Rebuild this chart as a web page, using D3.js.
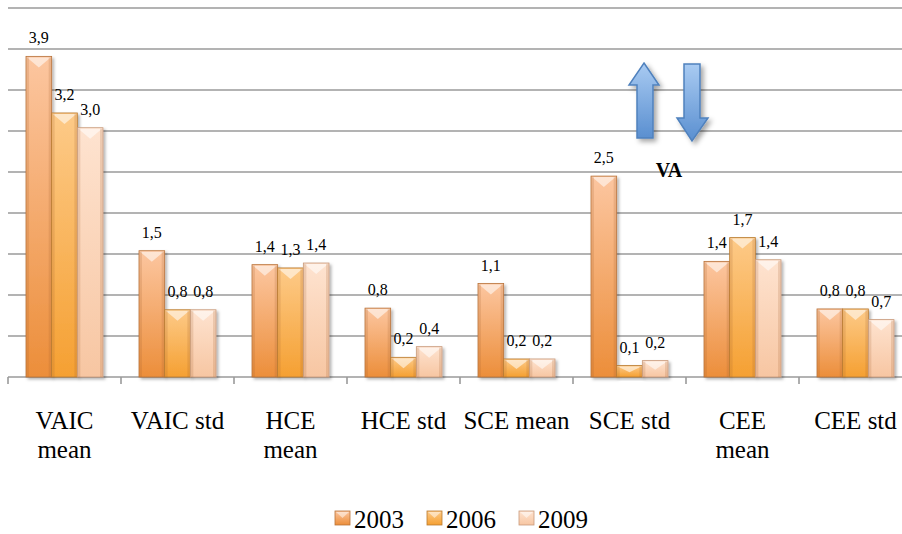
<!DOCTYPE html>
<html>
<head>
<meta charset="utf-8">
<script src="https://cdn.jsdelivr.net/npm/d3@7"></script>
<style>
  html, body { margin: 0; padding: 0; background: #ffffff; }
  svg { display: block; }
  svg text { font-family: "Liberation Serif", "DejaVu Serif", "Times New Roman", serif; }
</style>
</head>
<body>
<svg id="chart" width="902" height="534"></svg>
<script>
// ---- data ----
const categories = ["VAIC\nmean", "VAIC std", "HCE\nmean", "HCE std", "SCE mean", "SCE std", "CEE\nmean", "CEE std"];
const seriesNames = ["2003", "2006", "2009"];
const values2003 = [3.91, 1.54, 1.37, 0.84, 1.14, 2.45, 1.41, 0.83];
const values2006 = [3.22, 0.82, 1.33, 0.24, 0.22, 0.14, 1.70, 0.83];
const values2009 = [3.04, 0.82, 1.39, 0.37, 0.22, 0.20, 1.43, 0.70];
const yTicks = [0.5, 1, 1.5, 2, 2.5, 3, 3.5, 4, 4.5];
const annotationText = "VA";

const seriesValues = [values2003, values2006, values2009];
const colors = {
  "2003": { top: "#fcc6a0", bottom: "#ec8e3a", stroke: "#b8733a" },
  "2006": { top: "#fdca88", bottom: "#f5a032", stroke: "#b97a30" },
  "2009": { top: "#fee3d0", bottom: "#f7c6a2", stroke: "#c89a7a" }
};

const svg = d3.select("#chart");
const defs = svg.append("defs");

seriesNames.forEach(s => {
  const g = defs.append("linearGradient").attr("id", "grad" + s)
    .attr("x1", 0).attr("y1", 0).attr("x2", 0).attr("y2", 1);
  g.append("stop").attr("offset", "0%").attr("stop-color", colors[s].top);
  g.append("stop").attr("offset", "100%").attr("stop-color", colors[s].bottom);
});
const ag = defs.append("linearGradient").attr("id", "arrowGrad")
  .attr("x1", 0).attr("y1", 0).attr("x2", 0).attr("y2", 1);
ag.append("stop").attr("offset", "0%").attr("stop-color", "#a9cbf2");
ag.append("stop").attr("offset", "100%").attr("stop-color", "#5a8fd0");
const sh = defs.append("filter").attr("id", "shadow").attr("x", "-20%").attr("y", "-20%").attr("width", "150%").attr("height", "150%");
sh.append("feDropShadow").attr("dx", 2).attr("dy", 2).attr("stdDeviation", 1.5).attr("flood-color", "#000").attr("flood-opacity", 0.3);
const sh2 = defs.append("filter").attr("id", "shadow2").attr("x", "-40%").attr("y", "-20%").attr("width", "200%").attr("height", "150%");
sh2.append("feDropShadow").attr("dx", 3).attr("dy", 3).attr("stdDeviation", 2.5).attr("flood-color", "#000").attr("flood-opacity", 0.35);

// ---- scales ----
const x0 = d3.scaleBand().domain(categories).range([8, 912]).padding(0);
const x1 = d3.scaleBand().domain(seriesNames).range([18, x0.bandwidth() - 18]).padding(0);
const y = d3.scaleLinear().domain([0, 4.5]).range([377, 8]);

// ---- gridlines ----
svg.append("g").selectAll("line").data(yTicks).join("line")
  .attr("x1", 8).attr("x2", 902)
  .attr("y1", d => y(d)).attr("y2", d => y(d))
  .attr("stroke", "#9a9a9a").attr("stroke-width", 1.6);

// ---- x axis ----
const xAxis = svg.append("g");
xAxis.append("line").attr("x1", 8).attr("x2", 912).attr("y1", y(0)).attr("y2", y(0))
  .attr("stroke", "#9a9a9a").attr("stroke-width", 1.6);
const boundaries = categories.map(c => x0(c)).concat([x0.range()[1]]);
xAxis.selectAll("line.tick").data(boundaries).join("line").attr("class", "tick")
  .attr("x1", d => d).attr("x2", d => d).attr("y1", y(0)).attr("y2", y(0) + 7)
  .attr("stroke", "#9a9a9a").attr("stroke-width", 1.6);

const catLabels = xAxis.selectAll("text.cat").data(categories).join("text").attr("class", "cat")
  .attr("x", d => x0(d) + x0.bandwidth() / 2)
  .attr("y", 429)
  .attr("text-anchor", "middle")
  .attr("font-size", 25).attr("fill", "#000");
catLabels.each(function(d) {
  const lines = d.split("\n");
  const t = d3.select(this);
  lines.forEach((ln, i) => {
    t.append("tspan").attr("x", x0(d) + x0.bandwidth() / 2).attr("dy", i === 0 ? 0 : 29).text(ln);
  });
});

// ---- bars ----
const rows = categories.map((c, i) => ({ cat: c, vals: seriesNames.map((s, j) => ({ s, v: seriesValues[j][i] })) }));
const fmt = v => d3.format(".1f")(v).replace(".", ",");

const groups = svg.append("g").selectAll("g").data(rows).join("g")
  .attr("transform", d => `translate(${x0(d.cat)},0)`);

const bars = groups.selectAll("g.bar").data(d => d.vals).join("g").attr("class", "bar");
bars.append("rect")
  .attr("x", d => x1(d.s)).attr("width", x1.bandwidth())
  .attr("y", d => y(d.v)).attr("height", d => y(0) - y(d.v))
  .attr("fill", d => `url(#grad${d.s})`)
  .attr("stroke", d => colors[d.s].stroke).attr("stroke-width", 0.8)
  .attr("filter", "url(#shadow)");
// bevel: light triangle at top
bars.append("path")
  .attr("d", d => {
    const xl = x1(d.s) + 1, xr = x1(d.s) + x1.bandwidth() - 1, yt = y(d.v) + 1;
    const h = Math.min(10, (y(0) - y(d.v)) / 2);
    return `M${xl},${yt}L${xr},${yt}L${(xl + xr) / 2},${yt + h}Z`;
  })
  .attr("fill", "#ffffff").attr("opacity", 0.55);
// darker side edges
bars.append("rect")
  .attr("x", d => x1(d.s) + 0.5).attr("width", 2.5)
  .attr("y", d => y(d.v) + 1).attr("height", d => Math.max(0, y(0) - y(d.v) - 1))
  .attr("fill", "#a0602a").attr("opacity", 0.18);
bars.append("rect")
  .attr("x", d => x1(d.s) + x1.bandwidth() - 3).attr("width", 2.5)
  .attr("y", d => y(d.v) + 1).attr("height", d => Math.max(0, y(0) - y(d.v) - 1))
  .attr("fill", "#a0602a").attr("opacity", 0.18);
// labels
bars.append("text")
  .attr("x", d => x1(d.s) + x1.bandwidth() / 2)
  .attr("y", d => y(d.v) - 13)
  .attr("text-anchor", "middle")
  .attr("font-size", 16).attr("fill", "#000")
  .text(d => fmt(d.v));

// ---- annotation arrows ----
const ann = svg.append("g");
ann.append("path")
  .attr("d", "M644,63 L659,85 L653,85 L653,138 L637,138 L637,85 L629,85 Z")
  .attr("fill", "url(#arrowGrad)").attr("stroke", "#4f81bd").attr("stroke-width", 1.5)
  .attr("filter", "url(#shadow2)");
ann.append("path")
  .attr("d", "M684,64 L700,64 L700,118 L708,118 L692,141 L677,118 L684,118 Z")
  .attr("fill", "url(#arrowGrad)").attr("stroke", "#4f81bd").attr("stroke-width", 1.5)
  .attr("filter", "url(#shadow2)");
ann.append("text").attr("x", 669).attr("y", 177).attr("text-anchor", "middle")
  .attr("font-weight", "bold").attr("font-size", 20).text(annotationText);

// ---- legend ----
const legendX = [335, 427, 519];
const legend = svg.append("g").selectAll("g").data(seriesNames).join("g")
  .attr("transform", (d, i) => `translate(${legendX[i]},511)`);
legend.append("rect").attr("width", 15).attr("height", 14)
  .attr("fill", d => `url(#grad${d})`).attr("stroke", d => colors[d].stroke).attr("stroke-width", 0.8);
legend.append("path").attr("d", "M1,1L14,1L7.5,7Z").attr("fill", "#fff").attr("opacity", 0.5);
legend.append("text").attr("x", 19).attr("y", 17)
  .attr("font-size", 25).attr("fill", "#000").text(d => d);
</script>
</body>
</html>
